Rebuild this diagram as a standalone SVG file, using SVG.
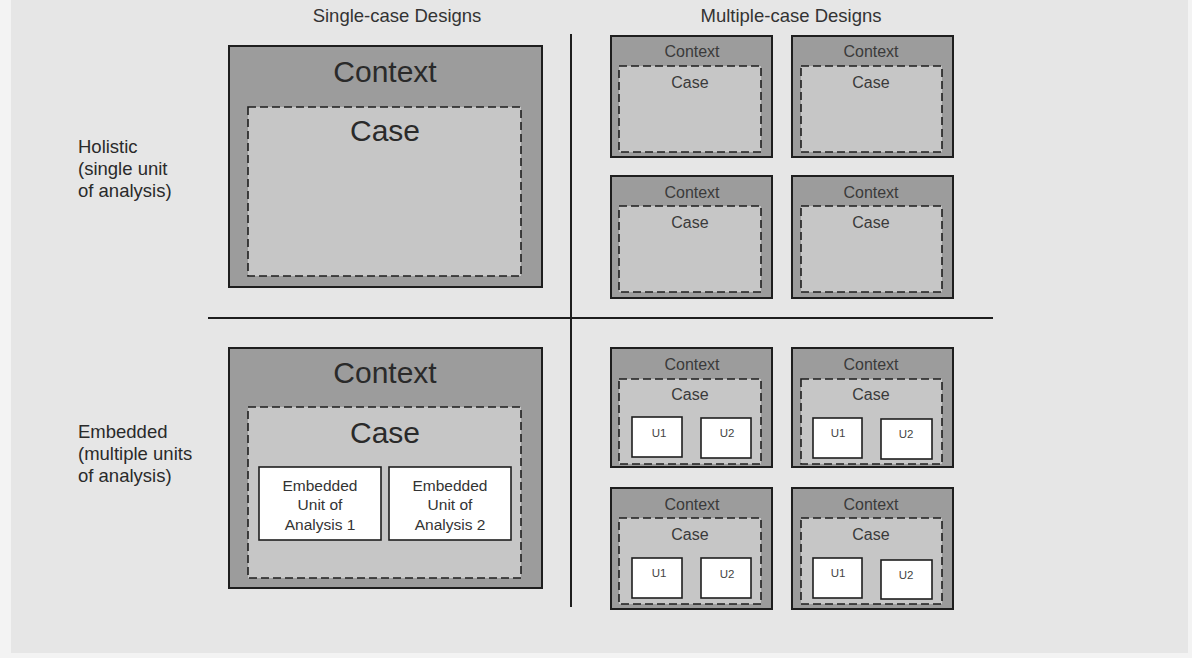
<svg xmlns="http://www.w3.org/2000/svg" width="1192" height="658" viewBox="0 0 1192 658">
<style>
text{font-family:"Liberation Sans",Arial,sans-serif;fill:#2a2a2a}
.ctx{fill:#9c9c9c;stroke:#1e1e1e;stroke-width:2}
.case{fill:#c6c6c6;stroke:#1e1e1e;stroke-width:1.6;stroke-dasharray:8,4}
.unit{fill:#ffffff;stroke:#1e1e1e;stroke-width:1.6}
.axis{stroke:#1e1e1e;stroke-width:2}
.big{font-size:30px;text-anchor:middle}
.sm{font-size:16px;text-anchor:middle;fill:#3a3a3a}
.u{font-size:11.5px;text-anchor:middle;fill:#444}
.emb{font-size:15.5px;text-anchor:middle;fill:#333}
.lbl{font-size:18.5px;fill:#2a2a2a}
.hdr{font-size:18.5px;text-anchor:middle;fill:#333}
</style>
<rect x="0" y="0" width="1192" height="658" fill="#f3f3f3"/>
<rect x="11" y="0" width="1177" height="653" fill="#e6e6e6"/>
<g id="headers">
<text class="hdr" x="397" y="22">Single-case Designs</text>
<text class="hdr" x="791" y="22">Multiple-case Designs</text>
</g>
<g id="row-labels">
<text class="lbl" x="78" y="153">Holistic</text>
<text class="lbl" x="78" y="175">(single unit</text>
<text class="lbl" x="78" y="197">of analysis)</text>
<text class="lbl" x="78" y="438">Embedded</text>
<text class="lbl" x="78" y="460">(multiple units</text>
<text class="lbl" x="78" y="482">of analysis)</text>
</g>
<g id="connectors">
<line class="axis" x1="571" y1="34" x2="571" y2="607"/>
<line class="axis" x1="208" y1="318" x2="993" y2="318"/>
</g>
<g id="single-holistic">
<rect class="ctx" x="229" y="46" width="313" height="241"/>
<text class="big" x="385" y="82">Context</text>
<rect class="case" x="248" y="107" width="273" height="169"/>
<text class="big" x="385" y="141">Case</text>
</g>
<g id="single-embedded">
<rect class="ctx" x="229" y="348" width="313" height="240"/>
<text class="big" x="385" y="383">Context</text>
<rect class="case" x="248" y="407" width="273" height="171"/>
<text class="big" x="385" y="443">Case</text>
<rect class="unit" x="259" y="467" width="122" height="73"/>
<text class="emb" x="320" y="491">Embedded</text>
<text class="emb" x="320" y="510">Unit of</text>
<text class="emb" x="320" y="530">Analysis 1</text>
<rect class="unit" x="389" y="467" width="122" height="73"/>
<text class="emb" x="450" y="491">Embedded</text>
<text class="emb" x="450" y="510">Unit of</text>
<text class="emb" x="450" y="530">Analysis 2</text>
</g>
<g id="multi-holistic-1">
<rect class="ctx" x="611" y="36" width="161" height="121"/>
<text class="sm" x="692" y="57">Context</text>
<rect class="case" x="619" y="66" width="142" height="86"/>
<text class="sm" x="690" y="88">Case</text>
</g>
<g id="multi-holistic-2">
<rect class="ctx" x="792" y="36" width="161" height="121"/>
<text class="sm" x="871" y="57">Context</text>
<rect class="case" x="801" y="66" width="141" height="86"/>
<text class="sm" x="871" y="88">Case</text>
</g>
<g id="multi-holistic-3">
<rect class="ctx" x="611" y="176" width="161" height="122"/>
<text class="sm" x="692" y="198">Context</text>
<rect class="case" x="619" y="206" width="142" height="86"/>
<text class="sm" x="690" y="228">Case</text>
</g>
<g id="multi-holistic-4">
<rect class="ctx" x="792" y="176" width="161" height="122"/>
<text class="sm" x="871" y="198">Context</text>
<rect class="case" x="801" y="206" width="141" height="86"/>
<text class="sm" x="871" y="228">Case</text>
</g>
<g id="multi-embedded-1">
<rect class="ctx" x="611" y="348" width="161" height="119"/>
<text class="sm" x="692" y="370">Context</text>
<rect class="case" x="619" y="379" width="142" height="85"/>
<text class="sm" x="690" y="400">Case</text>
<rect class="unit" x="632" y="417" width="50" height="40"/>
<text class="u" x="659" y="437">U1</text>
<rect class="unit" x="701" y="418" width="50" height="40"/>
<text class="u" x="727" y="437">U2</text>
</g>
<g id="multi-embedded-2">
<rect class="ctx" x="792" y="348" width="161" height="119"/>
<text class="sm" x="871" y="370">Context</text>
<rect class="case" x="801" y="379" width="141" height="85"/>
<text class="sm" x="871" y="400">Case</text>
<rect class="unit" x="813" y="418" width="49" height="40"/>
<text class="u" x="838" y="437">U1</text>
<rect class="unit" x="881" y="419" width="51" height="40"/>
<text class="u" x="906" y="438">U2</text>
</g>
<g id="multi-embedded-3">
<rect class="ctx" x="611" y="488" width="161" height="121"/>
<text class="sm" x="692" y="510">Context</text>
<rect class="case" x="619" y="518" width="142" height="86"/>
<text class="sm" x="690" y="540">Case</text>
<rect class="unit" x="632" y="558" width="50" height="40"/>
<text class="u" x="659" y="577">U1</text>
<rect class="unit" x="701" y="558" width="50" height="40"/>
<text class="u" x="727" y="578">U2</text>
</g>
<g id="multi-embedded-4">
<rect class="ctx" x="792" y="488" width="161" height="121"/>
<text class="sm" x="871" y="510">Context</text>
<rect class="case" x="801" y="518" width="141" height="86"/>
<text class="sm" x="871" y="540">Case</text>
<rect class="unit" x="813" y="558" width="49" height="40"/>
<text class="u" x="838" y="577">U1</text>
<rect class="unit" x="881" y="560" width="51" height="39"/>
<text class="u" x="906" y="579">U2</text>
</g>
</svg>
